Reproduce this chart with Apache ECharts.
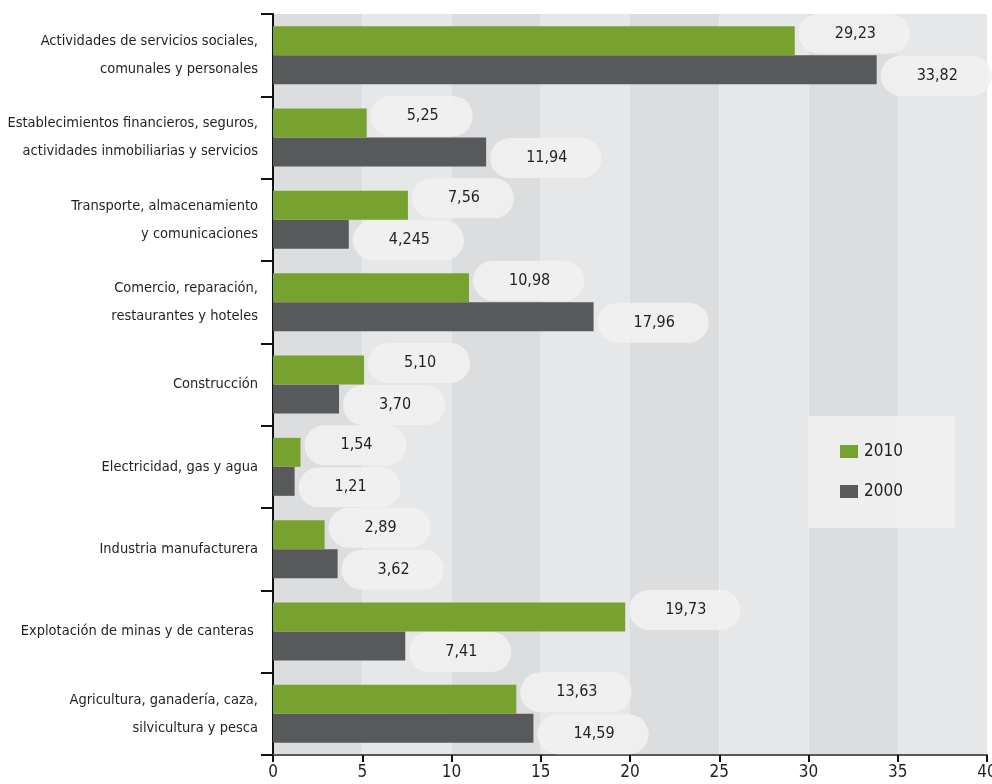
<!DOCTYPE html>
<html>
<head>
<meta charset="utf-8">
<script src="https://cdn.jsdelivr.net/npm/echarts@6/dist/echarts.min.js"></script>
<style>
  html, body { margin: 0; padding: 0; background: #fff; }
  #chart { width: 992px; height: 784px; }
</style>
</head>
<body>
<div id="chart"></div>
<script>
// Sectores, de arriba hacia abajo
const categories = [
  "Actividades de servicios sociales,\ncomunales y personales",
  "Establecimientos financieros, seguros,\nactividades inmobiliarias y servicios",
  "Transporte, almacenamiento\ny comunicaciones",
  "Comercio, reparación,\nrestaurantes y hoteles",
  "Construcción",
  "Electricidad, gas y agua",
  "Industria manufacturera",
  "Explotación de minas y de canteras ",
  "Agricultura, ganadería, caza,\nsilvicultura y pesca"
];
const values2010 = [29.23, 5.25, 7.56, 10.98, 5.10, 1.54, 2.89, 19.73, 13.63];
const values2000 = [33.82, 11.94, 4.245, 17.96, 3.70, 1.21, 3.62, 7.41, 14.59];
const xTicks = { min: 0, max: 40, step: 5 };

const FONT = '"Liberation Sans Narrow", "DejaVu Sans Condensed", sans-serif';
const GREEN = "#78a22f";
const GREY = "#58595b";

// 5.1 -> "5,10", 4.245 -> "4,245"
function fmt(v) {
  const dec = (String(v).split(".")[1] || "").length;
  return v.toFixed(Math.max(2, dec)).replace(".", ",");
}

function bubble(offsetY) {
  return {
    show: true,
    position: "right",
    distance: 4,
    offset: [0, offsetY],
    formatter: (p) => fmt(p.value),
    fontFamily: FONT,
    fontSize: 16,
    color: "#231f20",
    backgroundColor: "rgba(241,241,241,0.88)",
    borderRadius: 21,
    padding: [12, 34, 12, 36]
  };
}

const chart = echarts.init(document.getElementById("chart"));
chart.setOption({
  animation: false,
  textStyle: { fontFamily: FONT },
  grid: { left: 273, right: 5, top: 14, bottom: 29, containLabel: false, outerBoundsMode: "none" },
  legend: {
    data: ["2010", "2000"],
    orient: "vertical",
    left: 808,
    top: 416,
    padding: [27, 52, 28, 32],
    itemWidth: 18,
    itemHeight: 13,
    itemGap: 23,
    icon: "rect",
    backgroundColor: "rgba(241,241,241,0.85)",
    textStyle: { fontFamily: FONT, fontSize: 17, color: "#231f20", padding: [0, 0, 0, 1] }
  },
  xAxis: {
    type: "value",
    min: xTicks.min,
    max: xTicks.max,
    interval: xTicks.step,
    splitLine: { show: false },
    splitArea: { show: true, areaStyle: { color: ["#dcdddf", "#e6e7e8"] } },
    axisLine: { show: true, lineStyle: { color: GREY, width: 2 } },
    axisTick: { show: true, length: 7, lineStyle: { color: "#111", width: 2 } },
    axisLabel: { fontFamily: FONT, fontSize: 17, color: "#231f20", margin: 9 }
  },
  yAxis: {
    type: "category",
    inverse: true,
    data: categories,
    axisLine: { show: true, lineStyle: { color: "#111", width: 2 } },
    axisTick: { show: true, length: 12, lineStyle: { color: "#111", width: 2 } },
    axisLabel: { fontFamily: FONT, fontSize: 14.5, lineHeight: 28, color: "#231f20", margin: 15 }
  },
  series: [
    {
      name: "2010",
      type: "bar",
      data: values2010,
      barWidth: 29,
      barGap: "0%",
      itemStyle: { color: GREEN },
      label: bubble(-7),
      z: 3
    },
    {
      name: "2000",
      type: "bar",
      data: values2000,
      barWidth: 29,
      barGap: "0%",
      itemStyle: { color: GREY },
      label: bubble(6),
      z: 2
    }
  ]
});
</script>
</body>
</html>
